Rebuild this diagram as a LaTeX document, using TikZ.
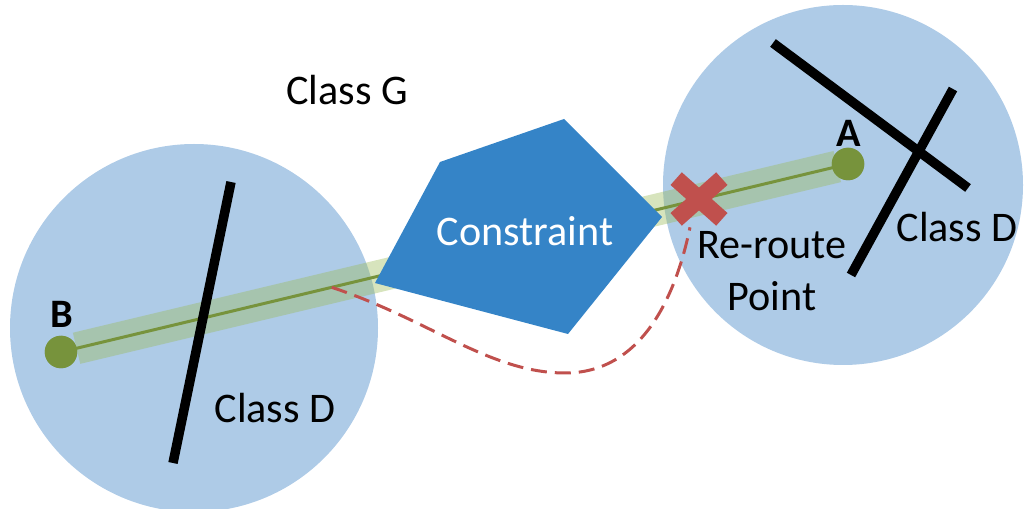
\documentclass[tikz,border=0pt]{standalone}
\usepackage{fontspec}
\setmainfont{Carlito}
\usetikzlibrary{calc}

\definecolor{zoneblue}{RGB}{174,203,231}
\definecolor{blockblue}{RGB}{53,132,199}
\definecolor{routegreen}{RGB}{119,147,60}
\definecolor{bandgreen}{RGB}{155,187,89}
\definecolor{markred}{RGB}{192,80,77}

\begin{document}
\begin{tikzpicture}[
        x=0.02cm, y=-0.02cm,
        font=\fontsize{24}{30}\selectfont,
        zone/.style={fill=zoneblue},
        wall/.style={line width=0.19cm, black},
        corridor/.style={line width=0.64cm, draw=bandgreen, draw opacity=0.4},
        route/.style={line width=0.06cm, draw=routegreen},
        endpt/.style={circle, fill=routegreen, inner sep=0pt, minimum size=0.65cm},
        ptlabel/.style={font=\bfseries\fontsize{23}{28}\selectfont},
        cross/.style={line width=0.34cm, draw=markred},
        detour/.style={line width=0.06cm, draw=markred, dash pattern=on 0.32cm off 0.16cm},
        block/.style={fill=blockblue}
    ]
        \useasboundingbox (0,0) rectangle (1028,509);
        \clip (0,0) rectangle (1028,509);

        % ========================================================
        % ZONAS CLASE D
        % ========================================================
        \fill[zone] (194,328) circle[radius=184];
        \fill[zone] (843,185) circle[radius=180];

        % ========================================================
        % RUTA B -> A
        % ========================================================
        \node[endpt] (B) at (61,352) {};
        \node[endpt] (A) at (848,164) {};

        \draw[corridor, shorten <=0.32cm, shorten >=0.22cm] (B.center) -- (A.center);
        \draw[route] (B.center) -- (A.center);

        % muros
        \draw[wall] (231,182) -- (173,463);
        \draw[wall] (773,43) -- (968,188);
        \draw[wall] (953,89) -- (851,275);

        % ========================================================
        % RESTRICCION
        % ========================================================
        \fill[block] (440,162) -- (564,119) -- (662,217) -- (568,334) -- (375,283) -- cycle;
        \node[text=white] (constraint) at (525,231) {Constraint};

        \node[endpt] at (B) {};
        \node[endpt] at (A) {};

        % punto de desvio
        \node[minimum width=0.9cm, minimum height=0.8cm, inner sep=0pt] (X) at (699,199) {};
        \draw[cross] (X.north west) -- (X.south east);
        \draw[cross] (X.north east) -- (X.south west);

        \coordinate (split) at ($(B)!0.344!(A)$);
        \draw[detour] (split) .. controls (430,320) and (490,373) .. (565,373)
            .. controls (640,373) and (675,300) .. ($(X.south)+(-9,8)$);

        % ========================================================
        % ETIQUETAS
        % ========================================================
        \node[ptlabel] (labB) at (62,314) {B};
        \node[ptlabel] (labA) at (849,133) {A};
        \node (classG) at (347,90) {Class G};
        \node (classDleft) at (275,408) {Class D};
        \node (classDright) at (957,227) {Class D};
        \node[align=center] (reroute) at (772,271) {Re-route\\Point};

    \end{tikzpicture}
\end{document}
